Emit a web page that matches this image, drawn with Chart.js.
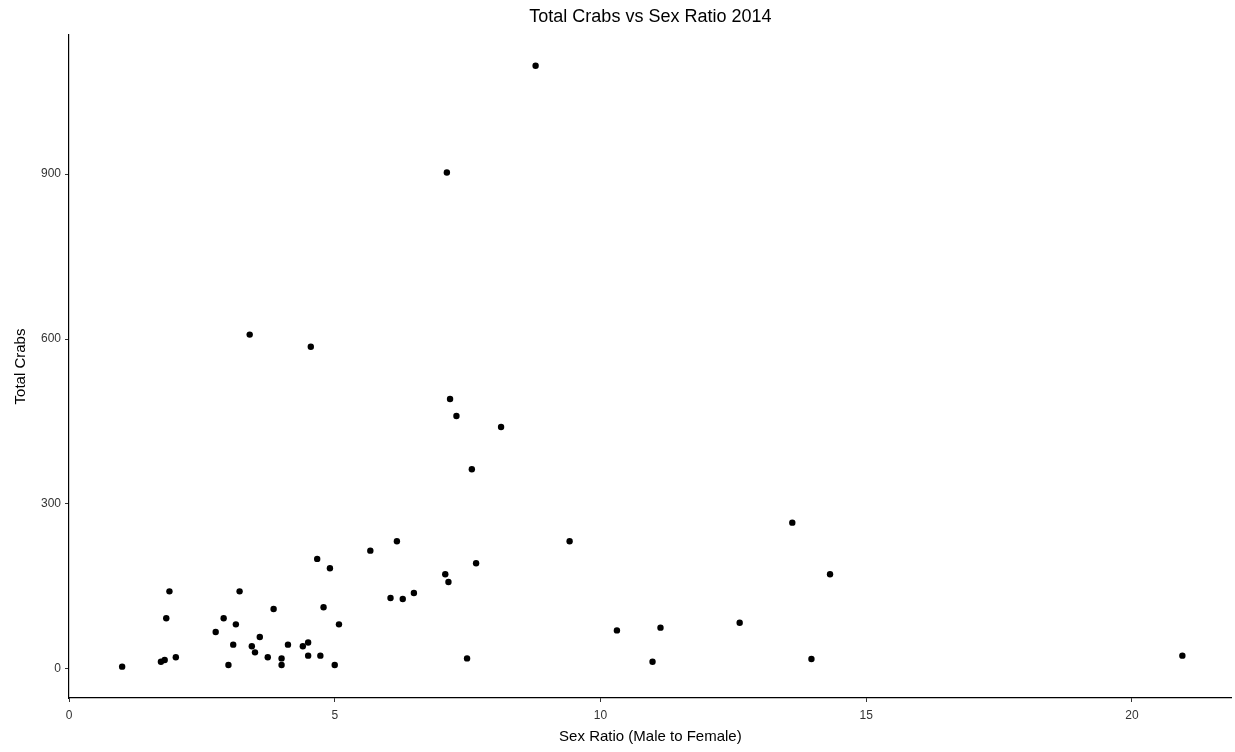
<!DOCTYPE html>
<html>
<head>
<meta charset="utf-8">
<title>Total Crabs vs Sex Ratio 2014</title>
<script src="https://cdn.jsdelivr.net/npm/chart.js@4.4.1/dist/chart.umd.min.js"></script>
<style>
  html, body { margin: 0; padding: 0; background: #fff; }
  #c { display: block; }
</style>
</head>
<body>
<canvas id="c" width="1235" height="752"></canvas>
<script>
  // values
  const sexRatio = [
    1.00, 1.73, 1.80, 2.01, 1.83, 1.89, 2.76, 2.91, 3.00, 3.09,
    3.14, 3.21, 3.44, 3.50, 3.59, 3.74, 3.85, 4.00, 4.00, 4.12,
    4.40, 4.50, 4.50, 4.73, 4.67, 4.91, 4.79, 5.08, 5.00, 5.67,
    6.17, 6.05, 6.28, 6.49, 7.08, 7.14, 7.66, 7.49, 7.17, 7.29,
    8.13, 7.58, 9.42, 10.31, 11.13, 10.98, 12.62, 13.61, 14.32, 13.97,
    3.40, 4.55, 7.11, 8.78, 20.95
  ];
  const totalCrabs = [
    4, 13, 16, 21, 92, 141, 67, 92, 7, 44,
    81, 141, 41, 30, 58, 21, 109, 19, 7, 44,
    41, 48, 24, 24, 200, 183, 112, 81, 7, 215,
    232, 129, 127, 138, 172, 158, 192, 19, 491, 460,
    440, 363, 232, 70, 75, 13, 84, 266, 172, 18,
    608, 586, 903, 1097, 24
  ];
  const xTicks = [0, 5, 10, 15, 20];
  const yTicks = [0, 300, 600, 900];

  const TITLE = 'Total Crabs vs Sex Ratio 2014';
  const FONT = "'Liberation Sans', Arial, sans-serif";
  const TICK_COLOR = '#333';

  // title centred over the plot panel, like ggplot does
  const panelTitle = {
    id: 'panelTitle',
    afterDraw(chart) {
      const { ctx, chartArea } = chart;
      ctx.save();
      ctx.font = '18px ' + FONT;
      ctx.fillStyle = '#000';
      ctx.textAlign = 'center';
      ctx.textBaseline = 'middle';
      ctx.fillText(TITLE, (chartArea.left + chartArea.right) / 2, 17);
      ctx.restore();
    },
  };

  const points = sexRatio.map((x, i) => ({ x, y: totalCrabs[i] }));

  function axisOptions(ticks, label, size, titlePad) {
    return {
      type: 'linear',
      border: { display: true, color: '#000', width: 1.2 },
      grid: { drawOnChartArea: false, drawTicks: true, tickLength: 4, color: '#333', lineWidth: 1 },
      ticks: { color: TICK_COLOR, font: { family: FONT, size: 12 } },
      title: { display: true, text: label, color: '#000', font: { family: FONT, size: 15 }, padding: titlePad },
      afterBuildTicks: (scale) => { scale.ticks = ticks.map((v) => ({ value: v })); },
      afterFit: size,
    };
  }

  const xAxis = axisOptions(xTicks, 'Sex Ratio (Male to Female)', (s) => { s.height = 54; }, { top: 0, bottom: 6 });
  xAxis.min = 0;
  xAxis.max = 21.88;
  xAxis.ticks.padding = 6;

  const yAxis = axisOptions(yTicks, 'Total Crabs', (s) => { s.width = 69; }, { top: 12, bottom: 0 });
  yAxis.min = -53;
  yAxis.max = 1153;
  yAxis.ticks.padding = 4;

  new Chart(document.getElementById('c').getContext('2d'), {
    type: 'scatter',
    data: {
      datasets: [{
        label: 'Total Crabs',
        data: points,
        backgroundColor: '#000',
        borderColor: '#000',
        borderWidth: 0,
        pointRadius: 3.2,
        pointHoverRadius: 3.2,
      }],
    },
    options: {
      responsive: false,
      animation: false,
      layout: { padding: { top: 35, right: 0, bottom: 0, left: 0 } },
      plugins: {
        legend: { display: false },
        title: { display: false },
        tooltip: { enabled: false },
      },
      scales: { x: xAxis, y: yAxis },
    },
    plugins: [panelTitle],
  });
</script>
</body>
</html>
